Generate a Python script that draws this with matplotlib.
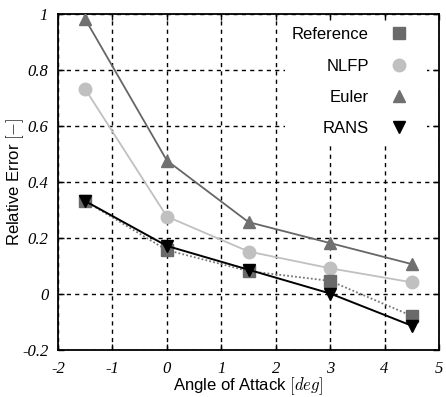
import matplotlib
matplotlib.use("Agg")
import matplotlib.pyplot as plt
from matplotlib.lines import Line2D

plt.rcParams["mathtext.fontset"] = "cm"
plt.rcParams["font.family"] = ["Liberation Sans", "DejaVu Sans"]

# angle of attack [deg]
aoa = [-1.5, 0.0, 1.5, 3.0, 4.5]

reference = [0.33, 0.155, 0.08, 0.045, -0.08]
nlfp = [0.73, 0.275, 0.15, 0.09, 0.04]
euler = [0.98, 0.475, 0.255, 0.18, 0.105]
rans = [0.33, 0.17, 0.085, 0.0, -0.115]

x_ticks = [-2, -1, 0, 1, 2, 3, 4, 5]
y_ticks = [-0.2, 0, 0.2, 0.4, 0.6, 0.8, 1]
x_ticklabels = ["-2", "-1", "0", "1", "2", "3", "4", "5"]
y_ticklabels = ["-0.2", "0", "0.2", "0.4", "0.6", "0.8", "1"]

fig = plt.figure(figsize=(4.46, 3.97), dpi=100)
ax = fig.add_axes([58 / 446, 1 - 349.5 / 397, 381 / 446, 336 / 397])

ax.plot(aoa, nlfp, color="#c0c0c0", lw=1.3, marker="o", ms=9, label="NLFP", zorder=3)
ax.plot(aoa, euler, color="#666666", lw=1.3, marker="^", ms=9,
        markerfacecolor="#707070", markeredgecolor="#707070", label="Euler", zorder=3)
ax.plot(aoa, reference, color="#777777", lw=1.3, ls=(0, (1, 1.2)), marker="s", ms=9,
        markerfacecolor="#6a6a6a", markeredgecolor="#6a6a6a", label="Reference", zorder=4)
ax.plot(aoa, rans, color="black", lw=1.4, marker="v", ms=9, label="RANS", zorder=5)

ax.set_xlim(-2, 5)
ax.set_ylim(-0.2, 1)
ax.set_xticks(x_ticks)
ax.set_yticks(y_ticks)
ax.set_xticklabels(x_ticklabels, family="Liberation Serif", style="italic", fontsize=12)
ax.set_yticklabels(y_ticklabels, family="Liberation Serif", style="italic", fontsize=12)
ax.tick_params(direction="in", length=4, width=1)
ax.tick_params(axis="x", top=True, pad=8)
ax.tick_params(axis="y", right=True, pad=7)
ax.grid(True, color="black", ls=(0, (3, 3)), lw=1)
ax.set_axisbelow(True)
for s in ax.spines.values():
    s.set_linewidth(1.3)

ax.set_xlabel(r"Angle of Attack $[deg]$", fontsize=12)
ax.set_ylabel(r"Relative Error $[-]$", fontsize=12)
ax.xaxis.set_label_coords(0.5, -0.077)
ax.yaxis.set_label_coords(-0.084, 0.5)

# legend: label left, marker only
handles = [
    Line2D([], [], ls="none", marker="s", ms=9, color="#6a6a6a"),
    Line2D([], [], ls="none", marker="o", ms=9, color="#c0c0c0"),
    Line2D([], [], ls="none", marker="^", ms=9, color="#707070"),
    Line2D([], [], ls="none", marker="v", ms=9, color="black"),
]
labels = ["Reference", "NLFP", "Euler", "RANS"]
leg = ax.legend(handles, labels, loc="upper right", bbox_to_anchor=(0.9685, 0.979),
                markerfirst=False, fontsize=12,
                frameon=True, framealpha=1, edgecolor="none", fancybox=False,
                handlelength=2.5, handletextpad=0.6, labelspacing=0.98,
                borderpad=0.4, borderaxespad=0, alignment="right")
leg.get_frame().set_linewidth(0)

fig.savefig("out.png", dpi=100)
